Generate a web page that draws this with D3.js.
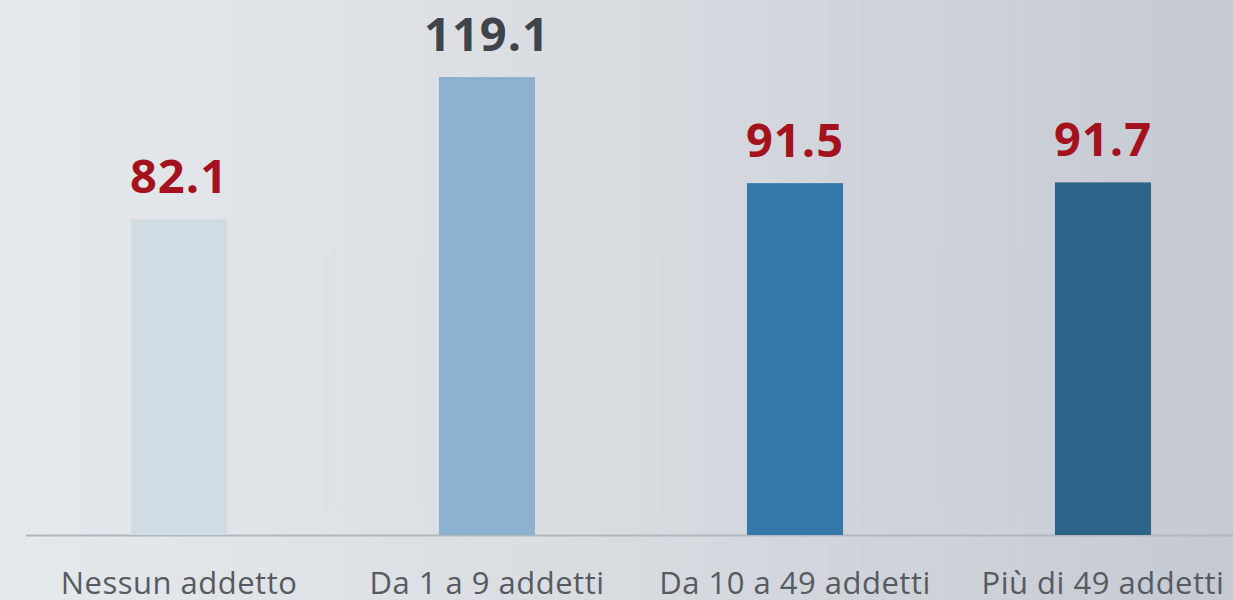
<!DOCTYPE html>
<html>
<head>
<meta charset="utf-8">
<script src="https://cdn.jsdelivr.net/npm/d3@7"></script>
<style>
  html, body { margin: 0; padding: 0; }
  body { width: 1233px; height: 600px; overflow: hidden; }
</style>
</head>
<body>
<div id="chart"></div>
<script>
const width = 1233;
const height = 600;

// data
const categories = ["Nessun addetto", "Da 1 a 9 addetti", "Da 10 a 49 addetti", "Più di 49 addetti"];
const values = [82.1, 119.1, 91.5, 91.7];
const barColors = ["#d0dbe3", "#8db2cf", "#3579ab", "#2e6489"];
const labelColors = ["#a3121d", "#3f434a", "#a3121d", "#a3121d"];

const svg = d3.select("#chart")
  .append("svg")
  .attr("width", width)
  .attr("height", height);

// background gradient
const defs = svg.append("defs");
const grad = defs.append("linearGradient")
  .attr("id", "bg")
  .attr("x1", "0%").attr("x2", "100%")
  .attr("y1", "0%").attr("y2", "0%");
grad.append("stop").attr("offset", "0%").attr("stop-color", "#e6e9ec");
grad.append("stop").attr("offset", "50%").attr("stop-color", "#d8dbe0");
grad.append("stop").attr("offset", "100%").attr("stop-color", "#c5c9d2");

svg.append("rect")
  .attr("width", width)
  .attr("height", height)
  .attr("fill", "url(#bg)");

const baseline = 535;

const x = d3.scaleBand()
  .domain(categories)
  .range([25, 1257])
  .paddingInner(0.688)
  .paddingOuter(0.344);

const y = d3.scaleLinear()
  .domain([0, d3.max(values)])
  .range([baseline, 77]);

// baseline axis
svg.append("line")
  .attr("x1", 26)
  .attr("x2", width)
  .attr("y1", baseline + 0.5)
  .attr("y2", baseline + 0.5)
  .attr("stroke", "#b2b6bd")
  .attr("stroke-width", 2);

// bars
svg.append("g")
  .selectAll("rect")
  .data(values)
  .join("rect")
  .attr("x", (d, i) => x(categories[i]))
  .attr("y", d => y(d))
  .attr("width", x.bandwidth())
  .attr("height", d => baseline - y(d))
  .attr("fill", (d, i) => barColors[i]);

// value labels
svg.append("g")
  .selectAll("text")
  .data(values)
  .join("text")
  .attr("x", (d, i) => x(categories[i]) + x.bandwidth() / 2)
  .attr("y", d => y(d) - 26)
  .attr("text-anchor", "middle")
  .attr("font-family", "'Open Sans', sans-serif")
  .attr("font-weight", 700)
  .attr("font-size", 47)
  .attr("letter-spacing", 1)
  .attr("fill", (d, i) => labelColors[i])
  .text(d => d.toFixed(1));

// category labels
svg.append("g")
  .selectAll("text")
  .data(categories)
  .join("text")
  .attr("x", d => x(d) + x.bandwidth() / 2)
  .attr("y", 594)
  .attr("text-anchor", "middle")
  .attr("font-family", "'Open Sans', sans-serif")
  .attr("font-size", 31)
  .attr("letter-spacing", 0.5)
  .attr("fill", "#575b61")
  .text(d => d);
</script>
</body>
</html>
